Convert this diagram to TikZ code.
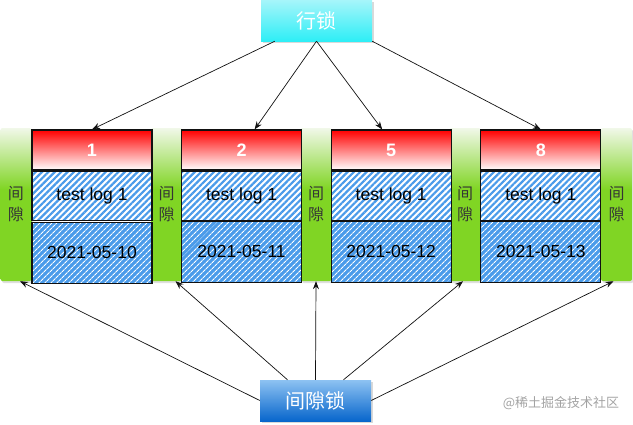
\documentclass[tikz,border=0pt]{standalone}
\usepackage{fontspec}
\setmainfont{Liberation Sans}
\newfontfamily\cjk{Noto Sans CJK SC}
\usetikzlibrary{arrows.meta,positioning,patterns.meta,shadows}
\definecolor{ink}{HTML}{111111}
\definecolor{hatch}{HTML}{4A9BEA}
\definecolor{gaplight}{HTML}{F1F8E9}
\definecolor{gapgreen}{HTML}{80D524}
\definecolor{keyred}{HTML}{FF0000}
\definecolor{rowtop}{HTML}{A6F5FA}
\definecolor{rowbot}{HTML}{2EEEF6}
\definecolor{gltop}{HTML}{8DC2F2}
\definecolor{glbot}{HTML}{0866CC}
\definecolor{mark}{HTML}{A3A3A3}
\pgfdeclareverticalshading{gapshade}{100bp}{color(0bp)=(gapgreen); color(55bp)=(gapgreen); color(75bp)=(gaplight); color(100bp)=(gaplight)}

\begin{document}
\begin{tikzpicture}[
  x=1pt, y=-1pt,
  font=\fontsize{17.5}{20}\selectfont,
  >={Stealth[length=8pt, width=6pt]},
  gapbar/.style={rounded corners=2pt, shading=gapshade, minimum width=31pt, minimum height=153pt, inner sep=0pt, align=center, font=\cjk\fontsize{16}{21}\selectfont, text=ink!85, drop shadow={shadow xshift=1.5pt, shadow yshift=-2pt, opacity=0.25}},
  keybox/.style={draw=ink, line width=1.1pt, top color=keyred, bottom color=white, minimum width=120pt, minimum height=40pt, font=\bfseries\fontsize{18}{20}\selectfont, text=white},
  logbox/.style={draw=ink, line width=1.1pt, minimum width=120pt, minimum height=49pt, preaction={fill=white}, pattern={Lines[angle=45, distance=4.5pt, line width=2.2pt]}, pattern color=hatch},
  datebox/.style={logbox, minimum height=61pt, preaction={fill=hatch}, pattern={Lines[angle=45, distance=4pt, line width=1.1pt]}, pattern color=white},
  lock/.style={minimum width=111pt, minimum height=41pt, font=\cjk\fontsize{20}{24}\selectfont, text=white, drop shadow={shadow xshift=2pt, shadow yshift=-2pt, opacity=0.3}},
  arr/.style={->, draw=ink, line width=0.7pt}
]
\useasboundingbox (0,0) rectangle (633,424);

% gaps between the records
\foreach \i/\x in {1/16, 2/166.5, 3/316, 4/465, 5/616.5}
  \node[gapbar] (g\i) at (\x,204.5) {间\\隙};

% index records
\node[keybox] (k1) at (92,150) {1};
\node[logbox, below=0pt of k1] (t1) {test log 1};
\node[datebox, below=0pt of t1] (d1) {2021-05-10};
\node[keybox, right=28.5pt of k1] (k2) {2};
\node[logbox, below=0pt of k2] (t2) {test log 1};
\node[datebox, below=0pt of t2] (d2) {2021-05-11};
\node[keybox, right=28.5pt of k2] (k3) {5};
\node[logbox, below=0pt of k3] (t3) {test log 1};
\node[datebox, below=0pt of t3] (d3) {2021-05-12};
\node[keybox, right=28.5pt of k3] (k4) {8};
\node[logbox, below=0pt of k4] (t4) {test log 1};
\node[datebox, below=0pt of t4] (d4) {2021-05-13};

% the two locks
\node[lock, top color=rowtop, bottom color=rowbot] (row) at (316.5,20.5) {行锁};
\node[lock, top color=gltop, bottom color=glbot] (gaplock) at (315.5,400.5) {间隙锁};
\node[font=\cjk\fontsize{13}{15}\selectfont, text=mark] (wm) at (561,403) {@稀土掘金技术社区};

\draw[arr] ([xshift=14pt]row.south west) -- (k1.north);
\draw[arr] (row.south) -- ([xshift=13pt]k2.north);
\draw[arr] (row.south) -- ([xshift=-9pt]k3.north);
\draw[arr] (row.south east) -- (k4.north);

\draw[arr] (gaplock.west) -- ([xshift=4pt]g1.south);
\draw[arr] ([xshift=-28pt]gaplock.north) -- ([xshift=9pt]g2.south);
\draw[arr] (gaplock.north) -- (g3.south);
\draw[arr] ([xshift=28pt]gaplock.north) -- ([xshift=-2pt]g4.south);
\draw[arr] (gaplock.east) -- ([xshift=-3pt]g5.south);
\end{tikzpicture}
\end{document}
